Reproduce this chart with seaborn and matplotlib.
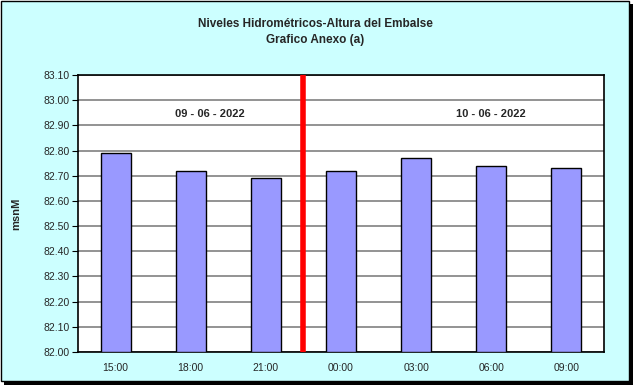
import matplotlib
matplotlib.use("Agg")
import matplotlib.pyplot as plt
import seaborn as sns
import pandas as pd
from matplotlib.patches import Rectangle

hours = ["15:00", "18:00", "21:00", "00:00", "03:00", "06:00", "09:00"]
levels = [82.79, 82.72, 82.69, 82.72, 82.77, 82.74, 82.73]
date_labels = ["09 - 06 - 2022", "10 - 06 - 2022"]
y_ticks = [82.00, 82.10, 82.20, 82.30, 82.40, 82.50, 82.60, 82.70, 82.80, 82.90, 83.00, 83.10]

df = pd.DataFrame({"hora": hours, "nivel": levels})

sns.set_style("white")
plt.rcParams["font.family"] = ["Liberation Sans", "DejaVu Sans"]

W, H = 633, 385
fig = plt.figure(figsize=(W / 100, H / 100), dpi=100)
bg = "#CCFFFF"
fig.patch.set_facecolor("white")
# shadow and frame
fig.add_artist(Rectangle((4 / W, 0), (W - 4) / W, (H - 4) / H, transform=fig.transFigure,
                         facecolor="black", edgecolor="none", zorder=-2))
fig.add_artist(Rectangle((0.5 / W, 4 / H), (W - 4.5) / W, (H - 4.5) / H, transform=fig.transFigure,
                         facecolor=bg, edgecolor="black", linewidth=1.0, zorder=-1))

ax = fig.add_axes([78 / W, 1 - 352 / H, (604 - 78) / W, (352 - 75) / H])
ax.set_facecolor("white")

# draw bars from baseline 82.00
sns.barplot(data=df, x="hora", y="nivel", color="#9999FF", edgecolor="black",
            linewidth=1.0, width=0.4, saturation=1, ax=ax, zorder=3)
for p in ax.patches:
    y0 = 82.0
    top = p.get_y() + p.get_height()
    p.set_y(y0)
    p.set_height(top - y0)

ax.set_ylim(82.0, 83.1)
ax.set_xlim(-0.5, len(hours) - 0.5)
ax.set_yticks(y_ticks)
ax.set_yticklabels([f"{v:.2f}" for v in y_ticks], fontsize=7.5)
ax.set_xticks(range(len(hours)))
ax.set_xticklabels(hours, fontsize=7.5)
ax.set_xticks([i - 0.5 for i in range(len(hours) + 1)], minor=True)
ax.tick_params(axis="x", which="major", length=0, pad=8)
ax.tick_params(axis="x", which="minor", length=4, direction="out", color="black")
ax.tick_params(axis="y", length=4, direction="out", color="black", left=True, pad=2)
ax.yaxis.grid(True, color="#808080", linewidth=1.2, zorder=1)
ax.set_axisbelow(True)
for s in ax.spines.values():
    s.set_color("black")
    s.set_linewidth(1.2)

ax.axvline(2.5, color="#FF0000", linewidth=4, zorder=5)

ax.text(1.25, 82.945, date_labels[0], ha="center", va="center", fontsize=8, fontweight="bold")
ax.text(5.0, 82.945, date_labels[1], ha="center", va="center", fontsize=8, fontweight="bold")

ax.set_xlabel("")
ax.set_ylabel("msnM", fontsize=8, fontweight="bold")
ax.yaxis.set_label_coords(-0.108, 0.5)

fig.text(315 / W, 1 - 24 / H, "Niveles Hidrométricos-Altura del Embalse", ha="center", va="center",
         fontsize=8.5, fontweight="bold")
fig.text(315 / W, 1 - 40 / H, "Grafico Anexo (a)", ha="center", va="center",
         fontsize=8.5, fontweight="bold")

fig.savefig("out.png", dpi=100, facecolor=fig.get_facecolor())
